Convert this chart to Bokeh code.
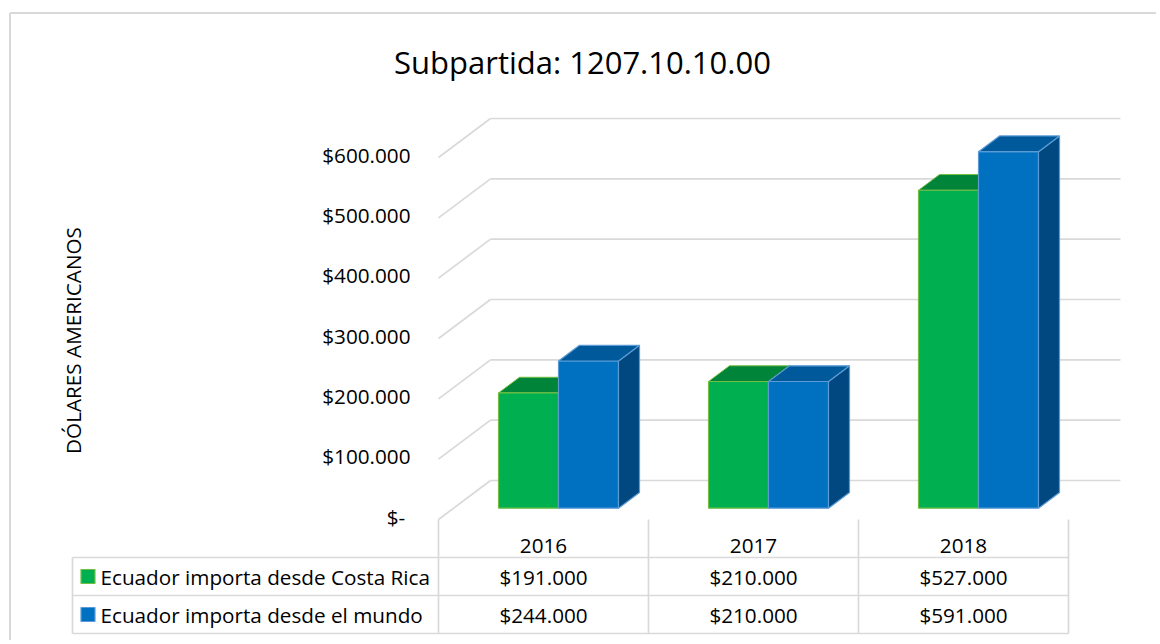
import math
from bokeh.plotting import figure
from bokeh.models import Range1d
from bokeh.embed import file_html
from bokeh.resources import INLINE
from bokeh.core.properties import value

# ---------------- data ----------------
title_text = "Subpartida: 1207.10.10.00"
axis_title = "DÓLARES AMERICANOS"
years = ["2016", "2017", "2018"]
series_names = ["Ecuador importa desde Costa Rica", "Ecuador importa desde el mundo"]
costa_rica = [191000, 210000, 527000]
mundo = [244000, 210000, 591000]
tick_values = [0, 100000, 200000, 300000, 400000, 500000, 600000]
tick_labels = ["$-\u00a0", "$100.000", "$200.000", "$300.000", "$400.000", "$500.000", "$600.000"]

# ---------------- geometry / style ----------------
W, H = 1156, 640
PXX = 210.0                 # px per category band
PXY = 60.33 / 100000.0      # px per dollar
def dx(px): return px / PXX
def dy(px): return px / PXY

ORX, ORY = 438.0, 507.7     # origin inside figure (px from left / top)
FONT = value("Open Sans")
FS = "20.7px"
GRID = "#D9D9D9"

green_front, green_top, green_side, green_edge = "#00B050", "#00843A", "#006E30", "#72BF44"
blue_front, blue_top, blue_side, blue_edge = "#0070C0", "#00599A", "#00487F", "#5B9BD5"

p = figure(width=W, height=H, output_backend="svg", toolbar_location=None,
           x_range=Range1d(-dx(ORX), dx(W - ORX)),
           y_range=Range1d(-dy(H - ORY), dy(ORY)),
           min_border=0, min_border_left=0, min_border_right=0,
           min_border_top=0, min_border_bottom=0)
p.axis.visible = False
p.grid.visible = False
p.outline_line_color = None
p.background_fill_color = "white"
p.border_fill_color = "white"

# outer chart frame
fx0, fy0 = dx(9.5 - 438), dy(507.7 - 12.5)
p.line([fx0, dx(W - ORX)], [fy0, fy0], line_color=GRID, line_width=2)
p.line([fx0, fx0], [fy0, -dy(H - ORY)], line_color=GRID, line_width=2)

# ---------------- walls / gridlines ----------------
FRONT_Y = dy(11.3)    # front floor below bar plane
BACK_X, BACK_Y = dx(52), dy(27.7)
ncat = len(years)
xs_h, ys_h, xs_d, ys_d = [], [], [], []
for t in tick_values:
    xs_h.append([BACK_X, ncat + BACK_X])
    ys_h.append([t + BACK_Y, t + BACK_Y])
    xs_d.append([0, BACK_X])
    ys_d.append([t - FRONT_Y, t + BACK_Y])
p.multi_line(xs_h, ys_h, line_color=GRID, line_width=1.7)
p.multi_line(xs_d, ys_d, line_color=GRID, line_width=1.7)

p.text(x=[-dx(28)] * len(tick_values), y=[t - FRONT_Y + dy(3) for t in tick_values],
       text=tick_labels, text_font=FONT, text_font_size=FS, text_align="right",
       text_baseline="middle", text_color="black")

# ---------------- 3D bars ----------------
BW = dx(60)
DX, DY = dx(21), dy(15.7)
SHIFT = dx(15)

def bar_parts(lefts, vals):
    rights = [l + BW for l in lefts]
    tops_x = [[l, r, r + DX, l + DX] for l, r in zip(lefts, rights)]
    tops_y = [[v, v, v + DY, v + DY] for v in vals]
    side_x = [[r, r, r + DX, r + DX] for r in rights]
    side_y = [[0, v, v + DY, DY] for v in vals]
    return rights, tops_x, tops_y, side_x, side_y

centers = [i + 0.5 + SHIFT for i in range(ncat)]
g_left = [c - BW for c in centers]
b_left = list(centers)

g_right, g_tx, g_ty, g_sx, g_sy = bar_parts(g_left, costa_rica)
b_right, b_tx, b_ty, b_sx, b_sy = bar_parts(b_left, mundo)

# green
p.patches(g_sx, g_sy, fill_color=green_side, line_color=green_edge, line_width=1)
p.patches(g_tx, g_ty, fill_color=green_top, line_color=green_edge, line_width=1)
p.quad(left=g_left, right=g_right, bottom=[0] * ncat, top=costa_rica,
       fill_color=green_front, line_color=green_edge, line_width=1.2)
# blue
p.quad(left=b_left, right=b_right, bottom=[0] * ncat, top=mundo,
       fill_color=blue_front, line_color=blue_edge, line_width=1.2)
p.patches(b_sx, b_sy, fill_color=blue_side, line_color=blue_edge, line_width=1.2)
p.patches(b_tx, b_ty, fill_color=blue_top, line_color=blue_edge, line_width=1.2)

# ---------------- data table ----------------
y_top = -FRONT_Y
row_lines = [-dy(49.3), -dy(87.3), -dy(125.3)]
x_left = dx(72 - 438)
vx, vy = [], []
for k in range(ncat + 1):
    vx.append([k, k])
    vy.append([y_top, row_lines[-1]])
vx.append([x_left, x_left]); vy.append([row_lines[0], row_lines[-1]])
for r in row_lines:
    vx.append([x_left, ncat]); vy.append([r, r])
p.multi_line(vx, vy, line_color=GRID, line_width=1.7)

year_y = -dy(37.3)
row_y = [-dy(68.3), -dy(106.3)]
p.text(x=[i + 0.5 for i in range(ncat)], y=[year_y] * ncat, text=years,
       text_font=FONT, text_font_size=FS, text_align="center", text_baseline="middle",
       text_color="black")

def fmt(v):
    return "$" + f"{v:,}".replace(",", ".")

for ry, vals in zip(row_y, [costa_rica, mundo]):
    p.text(x=[i + 0.5 for i in range(ncat)], y=[ry] * ncat, text=[fmt(v) for v in vals],
           text_font=FONT, text_font_size=FS, text_align="center", text_baseline="middle",
           text_color="black")

p.scatter(x=[dx(87.5 - 438)] * 2, y=row_y, marker="square", size=14,
          fill_color=[green_front, blue_front], line_color=[green_edge, blue_edge], line_width=1.2)
p.text(x=[dx(100 - 438)] * 2, y=row_y, text=series_names, text_font=FONT, text_font_size=FS,
       text_align="left", text_baseline="middle", text_color="black")

# ---------------- titles ----------------
p.text(x=[dx(144)], y=[dy(507.7 - 61)], text=[title_text], text_font=FONT,
       text_font_size="31px", text_align="center", text_baseline="middle", text_color="black")
p.text(x=[dx(72 - 438)], y=[dy(507.7 - 340)], text=[axis_title], angle=math.pi / 2,
       text_font=FONT, text_font_size=FS, text_align="center", text_baseline="middle",
       text_color="black")

open("out.html", "w").write(file_html(p, INLINE))
